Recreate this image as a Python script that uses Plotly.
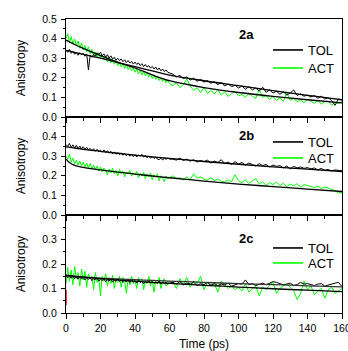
import plotly.graph_objects as go

# ---------------- data ----------------
t_dense = list(range(0, 61))           # 0..60 ps, 1 ps step
t_sparse = list(range(62, 161, 2))     # 62..160 ps, 2 ps step
time = t_dense + t_sparse
fit_time = [0, 2, 5, 10, 20, 30, 40, 50, 60, 80, 100, 120, 140, 160]

a_tol = [0.340,0.330,0.345,0.325,0.335,0.320,0.330,0.315,0.328,0.318,
         0.325,0.310,0.322,0.240,0.315,0.305,0.320,0.310,0.328,0.318,
         0.330,0.312,0.322,0.305,0.318,0.300,0.312,0.296,0.305,0.290,
         0.300,0.288,0.296,0.282,0.292,0.278,0.288,0.275,0.284,0.270,
         0.280,0.268,0.276,0.262,0.272,0.258,0.268,0.255,0.262,0.250,
         0.258,0.245,0.255,0.240,0.250,0.236,0.245,0.232,0.240,0.228,
         0.225,
         0.218,0.205,0.212,0.196,0.205,0.188,0.198,0.182,0.192,0.178,
         0.186,0.172,0.180,0.165,0.176,0.158,0.168,0.155,0.162,0.148,
         0.158,0.142,0.155,0.138,0.148,0.132,0.152,0.126,0.138,0.122,
         0.132,0.116,0.128,0.112,0.122,0.138,0.110,0.118,0.106,0.112,
         0.102,0.110,0.096,0.106,0.092,0.098,0.084,0.060,0.092,0.086]
a_act = [0.400,0.425,0.380,0.410,0.372,0.398,0.362,0.388,0.350,0.378,
         0.342,0.365,0.332,0.358,0.322,0.345,0.312,0.332,0.305,0.328,
         0.298,0.318,0.292,0.310,0.282,0.302,0.276,0.295,0.270,0.288,
         0.262,0.280,0.256,0.272,0.248,0.266,0.242,0.258,0.236,0.250,
         0.228,0.245,0.220,0.238,0.214,0.232,0.210,0.226,0.204,0.220,
         0.196,0.214,0.192,0.208,0.186,0.200,0.180,0.195,0.174,0.188,
         0.170,
         0.160,0.175,0.150,0.165,0.195,0.158,0.135,0.150,0.125,0.150,
         0.120,0.135,0.118,0.140,0.112,0.128,0.105,0.120,0.130,0.108,
         0.115,0.100,0.120,0.105,0.095,0.140,0.100,0.110,0.090,0.105,
         0.085,0.098,0.080,0.125,0.085,0.095,0.078,0.088,0.072,0.090,
         0.080,0.070,0.085,0.065,0.078,0.082,0.060,0.075,0.068,0.080]
a_tol_fit = [0.340,0.336,0.330,0.320,0.300,0.278,0.257,0.235,0.214,0.185,0.160,0.135,0.110,0.088]
a_act_fit = [0.392,0.383,0.370,0.350,0.313,0.280,0.250,0.215,0.185,0.150,0.125,0.105,0.088,0.072]

b_tol = [0.360,0.350,0.365,0.345,0.358,0.342,0.355,0.340,0.352,0.338,
         0.348,0.335,0.345,0.332,0.340,0.328,0.338,0.325,0.335,0.322,
         0.330,0.320,0.332,0.318,0.328,0.315,0.325,0.312,0.322,0.310,
         0.318,0.308,0.316,0.305,0.314,0.302,0.312,0.300,0.310,0.298,
         0.308,0.296,0.306,0.300,0.310,0.295,0.304,0.292,0.302,0.290,
         0.298,0.288,0.296,0.285,0.282,0.290,0.280,0.292,0.284,0.290,
         0.285,
         0.285,0.280,0.290,0.278,0.285,0.275,0.282,0.270,0.278,0.272,
         0.280,0.265,0.275,0.268,0.282,0.262,0.270,0.258,0.272,0.260,
         0.268,0.255,0.265,0.258,0.250,0.262,0.252,0.258,0.245,0.255,
         0.248,0.252,0.240,0.250,0.235,0.248,0.240,0.245,0.238,0.242,
         0.235,0.240,0.230,0.238,0.228,0.232,0.225,0.230,0.228,0.225]
b_act = [0.300,0.285,0.310,0.270,0.290,0.260,0.280,0.255,0.275,0.250,
         0.270,0.245,0.265,0.240,0.262,0.235,0.255,0.230,0.250,0.225,
         0.245,0.220,0.240,0.228,0.205,0.235,0.215,0.238,0.210,0.228,
         0.200,0.232,0.212,0.225,0.195,0.220,0.210,0.228,0.198,0.215,
         0.205,0.222,0.190,0.212,0.200,0.218,0.185,0.208,0.195,0.215,
         0.180,0.205,0.192,0.210,0.175,0.200,0.188,0.170,0.198,0.185,
         0.190,
         0.200,0.185,0.190,0.178,0.195,0.180,0.210,0.188,0.195,0.182,
         0.178,0.190,0.175,0.185,0.172,0.168,0.180,0.170,0.205,0.175,
         0.165,0.180,0.160,0.175,0.185,0.158,0.170,0.150,0.165,0.155,
         0.168,0.150,0.162,0.145,0.158,0.148,0.160,0.142,0.155,0.150,
         0.145,0.140,0.148,0.135,0.142,0.138,0.130,0.125,0.112,0.115]
b_tol_fit = [0.348,0.345,0.341,0.335,0.325,0.315,0.305,0.297,0.289,0.273,0.259,0.246,0.234,0.222]
b_act_fit = [0.285,0.268,0.253,0.243,0.230,0.219,0.209,0.199,0.190,0.173,0.158,0.145,0.132,0.120]

c_tol = [0.150,0.145,0.155,0.142,0.150,0.140,0.148,0.138,0.146,0.140,
         0.145,0.135,0.142,0.138,0.144,0.132,0.140,0.135,0.142,0.130,
         0.138,0.132,0.140,0.128,0.136,0.130,0.138,0.126,0.134,0.130,
         0.140,0.128,0.135,0.125,0.132,0.128,0.136,0.124,0.132,0.126,
         0.130,0.122,0.134,0.125,0.130,0.120,0.128,0.124,0.132,0.122,
         0.128,0.120,0.126,0.122,0.130,0.118,0.126,0.120,0.124,0.118,
         0.122,
         0.125,0.118,0.128,0.115,0.122,0.118,0.126,0.112,0.120,0.116,
         0.124,0.114,0.120,0.112,0.118,0.115,0.122,0.110,0.116,0.120,
         0.118,0.135,0.115,0.120,0.112,0.118,0.122,0.115,0.120,0.128,
         0.125,0.120,0.115,0.118,0.122,0.112,0.116,0.125,0.118,0.120,
         0.115,0.112,0.118,0.120,0.110,0.115,0.118,0.122,0.125,0.108]
c_act = [0.120,0.185,0.130,0.175,0.115,0.190,0.140,0.165,0.110,0.180,
         0.135,0.170,0.105,0.160,0.140,0.150,0.095,0.165,0.125,0.145,
         0.070,0.150,0.130,0.160,0.110,0.145,0.120,0.155,0.100,0.140,
         0.125,0.150,0.105,0.145,0.130,0.080,0.140,0.115,0.150,0.120,
         0.135,0.100,0.145,0.125,0.140,0.095,0.130,0.120,0.150,0.110,
         0.135,0.085,0.130,0.118,0.145,0.100,0.125,0.140,0.110,0.130,
         0.120,
         0.130,0.100,0.140,0.115,0.145,0.105,0.130,0.120,0.150,0.095,
         0.125,0.110,0.120,0.085,0.130,0.115,0.100,0.110,0.095,0.105,
         0.090,0.120,0.085,0.100,0.110,0.070,0.105,0.095,0.115,0.125,
         0.080,0.100,0.110,0.120,0.105,0.090,0.055,0.080,0.130,0.095,
         0.110,0.075,0.090,0.100,0.060,0.095,0.105,0.080,0.090,0.100]
c_tol_fit = [0.150,0.149,0.147,0.145,0.142,0.139,0.136,0.133,0.130,0.125,0.120,0.116,0.111,0.107]
c_act_fit = [0.155,0.153,0.150,0.147,0.140,0.135,0.130,0.125,0.121,0.113,0.106,0.099,0.093,0.087]
c_irf_time = [0, 0]
c_irf = [0.033, 0.094]

panel_labels = ["2a", "2b", "2c"]
series_names = ["TOL", "ACT"]
y_ranges = [[0, 0.5], [0, 0.5], [0, 0.4]]
y_ticks = [[0, 0.1, 0.2, 0.3, 0.4, 0.5], [0, 0.1, 0.2, 0.3, 0.4, 0.5], [0, 0.1, 0.2, 0.3, 0.4]]
y_ticktext = [["0.0", "0.1", "0.2", "0.3", "0.4", "0.5"],
              ["0.0", "0.1", "0.2", "0.3", "0.4", ""],
              ["0.0", "0.1", "0.2", "0.3", ""]]
x_ticks = [0, 20, 40, 60, 80, 100, 120, 140, 160]

# ---------------- figure ----------------
FONT = "Liberation Sans, Arial, sans-serif"
GREEN = "#00ff00"
fig = go.Figure()

panels = [(a_tol, a_act, a_tol_fit, a_act_fit),
          (b_tol, b_act, b_tol_fit, b_act_fit),
          (c_tol, c_act, c_tol_fit, c_act_fit)]
# one single-entry legend per (panel, series) so each can be placed like the original
legend_ids = [["legend", "legend2"], ["legend3", "legend4"], ["legend5", "legend6"]]
legend_centers_px = [[50, 68], [142, 158], [248, 263]]
for i, (tol, act, tolf, actf) in enumerate(panels):
    xa = "x" if i == 0 else f"x{i+1}"
    ya = "y" if i == 0 else f"y{i+1}"
    fig.add_trace(go.Scatter(x=time, y=act, mode="lines", line=dict(color=GREEN, width=1),
                             xaxis=xa, yaxis=ya, showlegend=False))
    fig.add_trace(go.Scatter(x=time, y=tol, mode="lines", line=dict(color="black", width=1),
                             xaxis=xa, yaxis=ya, showlegend=False))
    fig.add_trace(go.Scatter(x=fit_time, y=tolf, mode="lines", line_shape="spline",
                             line=dict(color="#333333" if i == 2 else "black", width=1.3),
                             xaxis=xa, yaxis=ya, showlegend=False))
    fig.add_trace(go.Scatter(x=fit_time, y=actf, mode="lines", line_shape="spline",
                             line=dict(color="black", width=1.3),
                             xaxis=xa, yaxis=ya, showlegend=False))
    # legend entries (no data drawn)
    for j, (name, col) in enumerate(zip(series_names, ["black", GREEN])):
        fig.add_trace(go.Scatter(x=[None], y=[None], mode="lines", name=name,
                                 line=dict(color=col, width=1.6),
                                 xaxis=xa, yaxis=ya, legend=legend_ids[i][j]))
fig.add_trace(go.Scatter(x=c_irf_time, y=c_irf, mode="lines", line=dict(color="red", width=1.5),
                         xaxis="x3", yaxis="y3", showlegend=False))

domains = [[2/3, 1.0], [1/3, 2/3], [0.0, 1/3]]
tickfont = dict(family=FONT, size=10.5, color="black")
layout = dict(
    width=348, height=351,
    margin=dict(l=66, r=6, t=19, b=38, autoexpand=False),
    paper_bgcolor="white", plot_bgcolor="white",
    font=dict(family=FONT, color="black"),
)
for i in range(3):
    xk = "xaxis" if i == 0 else f"xaxis{i+1}"
    yk = "yaxis" if i == 0 else f"yaxis{i+1}"
    ya = "y" if i == 0 else f"y{i+1}"
    xa = "x" if i == 0 else f"x{i+1}"
    layout[xk] = dict(
        range=[0, 160], anchor=ya, domain=[0, 1], automargin=False,
        showline=True, linecolor="black", linewidth=1, mirror=True,
        ticks="outside", ticklen=5, tickwidth=1, tickcolor="black",
        tickvals=x_ticks, showticklabels=(i == 2), tickfont=tickfont,
        ticklabeloverflow="allow",
        minor=dict(dtick=10, ticks="outside", ticklen=3, tickcolor="black"),
        showgrid=False, zeroline=False, fixedrange=True,
    )
    layout[yk] = dict(
        range=y_ranges[i], domain=domains[i], anchor=xa, automargin=False,
        showline=True, linecolor="black", linewidth=1, mirror=True,
        ticks="outside", ticklen=4, tickwidth=1, tickcolor="black",
        tickvals=y_ticks[i], ticktext=y_ticktext[i], tickfont=tickfont,
        ticklabelstandoff=2,
        minor=dict(dtick=0.05, ticks="outside", ticklen=2, tickcolor="black"),
        showgrid=False, zeroline=False, fixedrange=True,
        title=dict(text="Anisotropy", font=dict(family=FONT, size=12), standoff=14),
    )
    # right-side inward ticks
    layout[f"yaxis{i+4}"] = dict(
        range=y_ranges[i], overlaying=ya, side="right", anchor=xa, automargin=False,
        ticks="inside", ticklen=3, tickcolor="black", tickvals=y_ticks[i],
        showticklabels=False, showgrid=False, zeroline=False, showline=False,
        minor=dict(dtick=0.05, ticks="inside", ticklen=2, tickcolor="black"),
        fixedrange=True,
    )
layout["xaxis3"]["title"] = dict(text="Time (ps)", font=dict(family=FONT, size=12), standoff=7)
# top inward ticks of the first panel
layout["xaxis4"] = dict(
    range=[0, 160], overlaying="x", side="top", anchor="y", automargin=False,
    ticks="inside", ticklen=3, tickcolor="black", tickvals=x_ticks,
    showticklabels=False, showgrid=False, zeroline=False, showline=False,
    minor=dict(dtick=10, ticks="inside", ticklen=3, tickcolor="black"),
    fixedrange=True,
)

for i in range(3):
    for j in range(2):
        layout[legend_ids[i][j]] = dict(
            x=(268 - 66) / 276, xanchor="left",
            y=(313 - legend_centers_px[i][j]) / 294, yanchor="middle",
            bgcolor="rgba(0,0,0,0)", borderwidth=0, itemwidth=30,
            font=dict(family=FONT, size=13, color="black"),
            itemclick=False, itemdoubleclick=False,
        )

label_y = [(313 - 35) / 294, (313 - 135) / 294, (313 - 238) / 294]
layout["annotations"] = [
    dict(text=f"<b>{panel_labels[i]}</b>", x=(246 - 66) / 276, y=label_y[i],
         xref="paper", yref="paper", xanchor="center", yanchor="middle", showarrow=False,
         font=dict(family=FONT, size=13, color="black"))
    for i in range(3)
]
fig.update_layout(**layout)
fig.write_html("out.html")
